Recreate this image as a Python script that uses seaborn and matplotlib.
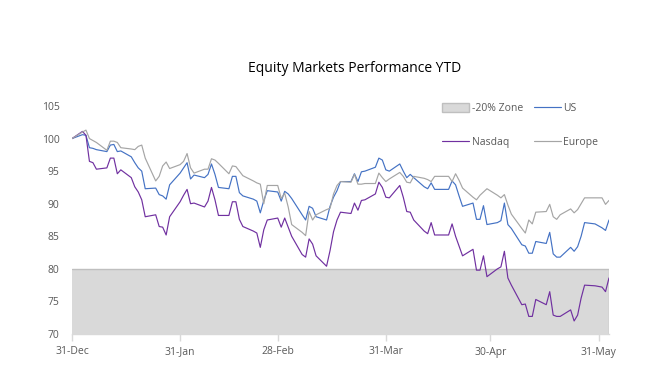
import pandas as pd
import matplotlib
matplotlib.use('Agg')
import matplotlib.pyplot as plt
import matplotlib.dates as mdates
from matplotlib.patches import Patch
from matplotlib.lines import Line2D
import seaborn as sns

# trading days 31-Dec-2021 .. 03-Jun-2022
dates = pd.bdate_range("2021-12-31", "2022-06-03")

nasdaq = [
    100.0,
    101.1, 100.5, 96.5, 96.3, 95.3,
    95.5, 97.0, 97.0, 94.6, 95.2,
    94.0, 92.6, 91.8, 90.6, 88.0,
    88.3, 86.5, 86.4, 85.2, 88.0,
    90.3, 91.3, 92.2, 90.0, 90.1,
    89.5, 90.4, 92.5, 90.6, 88.2,
    88.2, 90.3, 90.3, 87.6, 86.5,
    85.8, 85.5, 83.3, 86.0, 87.5,
    87.8, 86.4, 87.8, 86.4, 85.0,
    82.2, 81.8, 84.6, 83.8, 82.0,
    80.4, 82.8, 85.7, 87.5, 88.7,
    88.5, 90.1, 89.0, 90.5, 90.6,
    91.5, 93.3, 92.5, 91.0, 90.9,
    92.8, 91.0, 88.8, 88.7, 87.5,
    85.8, 85.4, 87.1, 85.2, 85.2,
    85.2, 86.9, 85.0, 83.5, 82.0,
    83.0, 79.8, 79.8, 82.0, 78.8,
    80.0, 80.3, 82.7, 78.6, 77.5,
    74.5, 74.6, 72.7, 72.7, 75.3,
    74.5, 76.5, 72.9, 72.7, 72.7,
    73.7, 72.0, 72.9, 75.5, 77.5,
    77.4, 77.3, 77.2, 76.5, 78.6,
]

us = [
    100.0,
    100.6, 100.5, 98.6, 98.5, 98.3,
    98.0, 99.0, 99.1, 98.0, 98.1,
    97.2, 96.3, 95.5, 95.0, 92.3,
    92.4, 91.4, 91.2, 90.7, 92.9,
    94.7, 95.5, 96.3, 93.8, 94.4,
    94.0, 94.5, 96.1, 94.5, 92.5,
    92.3, 94.2, 94.2, 91.7, 91.2,
    90.7, 90.4, 88.6, 90.5, 92.0,
    91.8, 90.4, 91.9, 91.5, 90.8,
    88.3, 87.5, 89.6, 89.3, 88.0,
    87.5, 89.6, 91.0, 92.0, 93.4,
    93.4, 94.6, 93.4, 94.9, 95.0,
    95.6, 97.0, 96.7, 95.2, 95.0,
    96.1, 95.0, 94.0, 94.5, 94.0,
    92.6, 92.3, 93.2, 92.2, 92.2,
    92.2, 93.5, 92.9, 91.2, 89.6,
    90.1, 87.6, 87.6, 89.7, 86.8,
    87.1, 87.4, 90.1, 86.8, 86.2,
    83.7, 83.5, 82.4, 82.4, 84.2,
    83.9, 85.6, 82.3, 81.8, 81.8,
    83.3, 82.7, 83.4, 85.0, 87.1,
    86.9, 86.6, 86.3, 85.9, 87.5,
]

europe = [
    100.0,
    101.0, 101.3, 100.0, 99.7, 99.4,
    98.2, 99.6, 99.6, 99.4, 98.6,
    98.4, 98.3, 98.8, 99.0, 97.0,
    93.5, 94.2, 95.8, 96.4, 95.4,
    96.0, 96.5, 97.7, 95.5, 94.7,
    95.3, 95.3, 96.9, 96.7, 96.2,
    94.6, 95.8, 95.7, 95.0, 94.3,
    93.5, 93.2, 93.0, 90.0, 92.8,
    92.8, 90.8, 91.6, 89.5, 86.8,
    85.6, 85.1, 88.8, 87.5, 88.3,
    89.1, 89.3, 91.5, 92.8, 93.4,
    93.3, 94.5, 93.0, 93.0, 93.1,
    93.1, 94.7, 94.0, 93.4, 93.8,
    94.8, 94.2, 93.3, 93.2, 94.2,
    93.9, 93.7, 93.4, 94.2, 94.2,
    94.2, 93.4, 94.6, 93.6, 92.4,
    91.0, 90.6, 91.3, 91.8, 92.3,
    91.3, 90.9, 91.4, 89.8, 88.4,
    86.2, 85.5, 87.5, 86.9, 88.7,
    88.8, 89.9, 88.0, 87.6, 88.3,
    89.2, 88.6, 89.1, 90.0, 90.9,
    90.9, 90.9, 90.9, 89.9, 90.5,
]

zone_level = 80  # -20% from start
tick_dates = ["2021-12-31", "2022-01-31", "2022-02-28", "2022-03-31", "2022-04-30", "2022-05-31"]
y_ticks = [70, 75, 80, 85, 90, 95, 100, 105]

colors = {"US": "#4472C4", "Nasdaq": "#7030A0", "Europe": "#A5A5A5"}
zone_face = "#D9D9D9"
zone_edge = "#BFBFBF"
text_gray = "#595959"

df = pd.DataFrame({"date": dates, "US": us, "Nasdaq": nasdaq, "Europe": europe})
long_df = df.melt(id_vars="date", var_name="series", value_name="value")

sns.set_theme(style="white")
plt.rcParams['font.family'] = ['Open Sans', 'DejaVu Sans']

fig = plt.figure(figsize=(6.66, 3.73), dpi=100)
ax = fig.add_axes([72 / 666, 1 - 334 / 373, (609 - 72) / 666, (334 - 106) / 373])

ax.fill_between(df["date"], 70, zone_level, facecolor=zone_face, edgecolor="none", zorder=1)
ax.plot([df["date"].iloc[0], df["date"].iloc[-1], df["date"].iloc[-1]],
        [zone_level, zone_level, 70], color=zone_edge, lw=1.0, zorder=1.5)

sns.lineplot(data=long_df, x="date", y="value", hue="series", palette=colors,
             hue_order=["US", "Nasdaq", "Europe"], linewidth=0.85, legend=False,
             ax=ax, zorder=2)

ax.set_xlim(df["date"].iloc[0], df["date"].iloc[-1])
ax.set_ylim(70, 105)
ax.set_yticks(y_ticks)
ax.set_xticks(pd.to_datetime(tick_dates))
ax.xaxis.set_major_formatter(mdates.DateFormatter("%d-%b"))
ax.set_xlabel("")
ax.set_ylabel("")

for s in ["top", "right", "left"]:
    ax.spines[s].set_visible(False)
ax.spines["bottom"].set_color("#D9D9D9")
ax.spines["bottom"].set_linewidth(1.0)
ax.tick_params(axis="x", which="major", direction="out", length=5, width=1.0,
               color="#D9D9D9", labelcolor=text_gray, labelsize=7.5, pad=4, bottom=True)
ax.tick_params(axis="y", length=0, labelcolor=text_gray, labelsize=7.5, pad=9)

fig.text(355 / 666, 1 - 68 / 373, "Equity Markets Performance YTD", ha="center", va="center",
         fontsize=10, color="black")

handles = [
    Patch(facecolor=zone_face, edgecolor=zone_edge, linewidth=1.0, label="-20% Zone"),
    Line2D([], [], color=colors["Nasdaq"], lw=0.85, label="Nasdaq"),
    Line2D([], [], color=colors["US"], lw=0.85, label="US"),
    Line2D([], [], color=colors["Europe"], lw=0.85, label="Europe"),
]
leg = fig.legend(handles=handles, ncol=2, loc="upper left",
                 bbox_to_anchor=(437 / 666, 1 - 98 / 373), frameon=False,
                 fontsize=7.5, handlelength=2.6, handleheight=0.9, handletextpad=0.25,
                 columnspacing=1.0, labelspacing=2.2, borderpad=0)
for t in leg.get_texts():
    t.set_color(text_gray)

fig.savefig("out.png", dpi=100)
